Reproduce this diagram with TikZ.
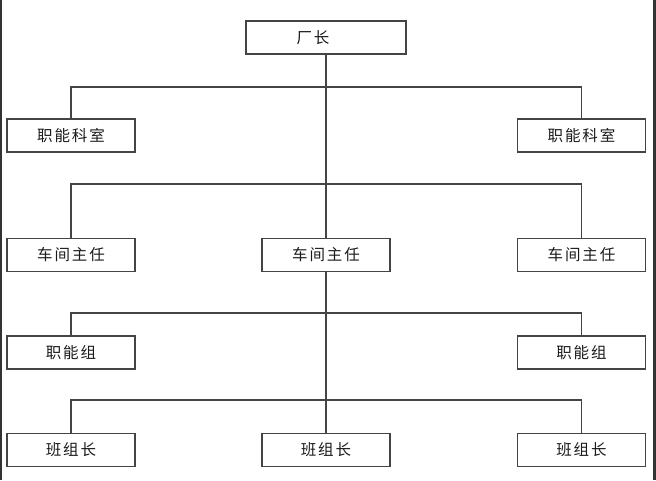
\documentclass[tikz,border=0pt]{standalone}
\usepackage{fontspec}
\newfontfamily\cjk[LetterSpace=12]{Noto Sans CJK SC}
\definecolor{edge}{HTML}{444444}
\definecolor{txt}{HTML}{1A1A1A}
\begin{document}
\begin{tikzpicture}[x=1pt,y=-1pt,
  box/.style={draw=edge,line width=1.2pt,fill=white,minimum width=128pt,minimum height=33pt,inner sep=0pt,
    font=\cjk\fontsize{15.5}{17}\selectfont,text=txt},
  conn/.style={draw=edge,line width=1.1pt}]
\useasboundingbox (0,0) rectangle (656,480);
\fill[black!80] (0,0) rectangle (2,480);
\fill[black!80] (652.5,0) rectangle (656,480);
% nodes
\node[box,minimum width=160pt] (top) at (326,37.5) {厂长\kern26pt};
\node[box] (r1l) at (71,135.5) {职能科室};
\node[box] (r1r) at (581.5,135.5) {职能科室};
\node[box] (r2l) at (71,255) {车间主任};
\node[box] (r2c) at (326,255) {车间主任};
\node[box] (r2r) at (581.5,255) {车间主任};
\node[box] (r3l) at (71,352.5) {职能组};
\node[box] (r3r) at (581.5,352.5) {职能组};
\node[box] (r4l) at (71,450) {班组长};
\node[box] (r4c) at (326,450) {班组长};
\node[box] (r4r) at (581.5,450) {班组长};
% bus points
\coordinate (b1) at (326,87);
\coordinate (b2) at (326,184);
\coordinate (b3) at (326,313);
\coordinate (b4) at (326,400);
% connectors
\draw[conn] (top.south) -- (r2c.north);
\draw[conn] (r2c.south) -- (r4c.north);
\draw[conn] (r1l.north) |- (b1) -| (r1r.north);
\draw[conn] (r2l.north) |- (b2) -| (r2r.north);
\draw[conn] (r3l.north) |- (b3) -| (r3r.north);
\draw[conn] (r4l.north) |- (b4) -| (r4r.north);
\end{tikzpicture}
\end{document}
